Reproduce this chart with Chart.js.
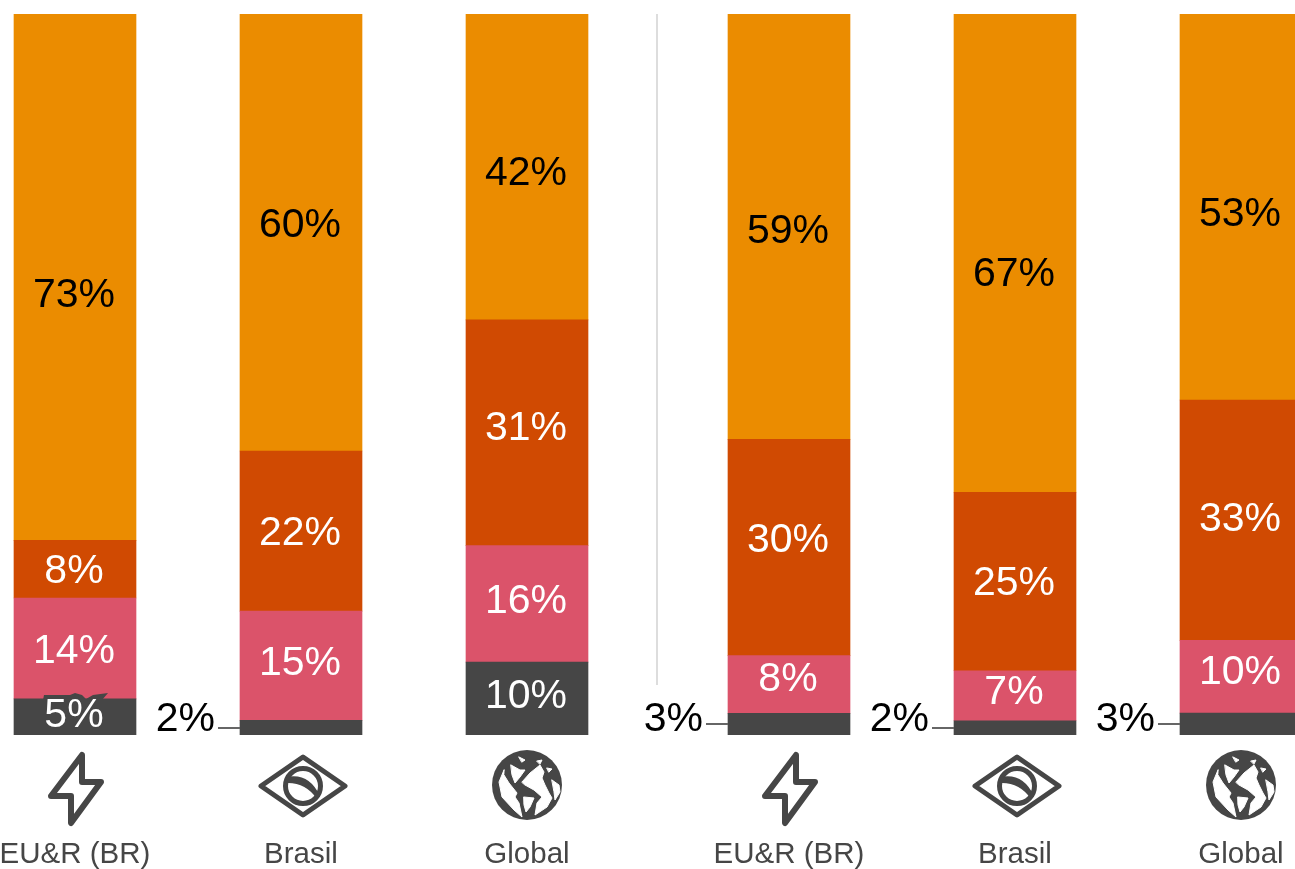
<!DOCTYPE html>
<html lang="pt">
<head>
<meta charset="utf-8">
<title>Stacked shares by region</title>
<script src="https://cdn.jsdelivr.net/npm/chart.js@4"></script>
<style>
  html, body { margin: 0; padding: 0; width: 1295px; height: 869px; overflow: hidden; background: #fff; }
  canvas { position: absolute; top: 0; }
  #panelA { left: -38px; }
  #panelB { left: 630px; }
</style>
</head>
<body>
<canvas id="panelA" width="678" height="869"></canvas>
<canvas id="panelB" width="724" height="869"></canvas>
<script>
// Series values, bottom of the stack first; the six columns form two panels of three.
const categories = ['EU&R (BR)', 'Brasil', 'Global'];
const darkValues = [5, 2, 10, 3, 2, 3];
const pinkValues = [14, 15, 16, 8, 7, 10];
const redValues = [8, 22, 31, 30, 25, 33];
const orangeValues = [73, 60, 42, 59, 67, 53];

const seriesValues = [darkValues, pinkValues, redValues, orangeValues];
const seriesColors = ['#464646', '#DB536A', '#D04A02', '#EB8C00'];
const labelColors = ['#fff', '#fff', '#fff', '#000'];

// Vertical nudge of the in-bar labels, in pixels.
const labelShift = [
  [-4, 0, -5, 0, 0, 0],
  [0, -5, -5, -8, -6, -7],
  [0, 0, -7, -10, -1, -3],
  [16, -10, 4, 2, 19, 5]
];

const VALUE_FONT = '41px "Liberation Sans", Arial, sans-serif';
const AXIS_FONT_SIZE = 29.5;
const INK = '#464646';

// Each column is a full 100% stack of its rounded shares.
function share(seriesIndex, column) {
  const total = seriesValues.reduce((sum, s) => sum + s[column], 0);
  return seriesValues[seriesIndex][column] / total * 100;
}

const boltPath = new Path2D('M7 20 L7 47 L26 47 L-4 88 L-4 61 L-24 61 Z');
const flagDiamond = new Path2D('M2 22 L44 51 L2 80 L-40 51 Z');
const flagBand = new Path2D('M-15 42 Q8 37 19 61 L16 64 Q5 48 -13 48 Z');
// Oceans and land interiors, cut out of a solid disc.
const globeCutouts = [
  'M-23 -15 L-28 -3 L-25 12 L-13 25 L-5 32 L-8 18 L-12 12 L-10 8 L-18 -2 L-23 -10 Z',
  'M-16 -20 L-7 -15 L-2 -15 L-7 -8 L-12 -2 L-15 -10 Z',
  'M-3 12 L7 13 L3 22 L-1 27 L-3 20 Z',
  'M-5 -3 L3 -12 L13 -20 L17 -13 L15 -7 L18 0 L22 8 L25 13 L20 22 L8 30 L10 18 L15 12 L7 5 L-2 0 Z',
  'M25 -5 L32 0 L33 7 L28 15 L27 7 Z',
  'M-8 -28 L-2 -25 L-5 -23 Z',
  'M10 -24 L15 -25 L13 -21 Z',
  'M20 -17 L25 -16 L22 -13 Z'
].map(d => new Path2D(d));

function drawBolt(ctx) {
  ctx.lineWidth = 6;
  ctx.stroke(boltPath);
}

function drawFlag(ctx) {
  ctx.lineWidth = 5;
  ctx.stroke(flagDiamond);
  ctx.beginPath();
  ctx.arc(2, 51, 17.5, 0, Math.PI * 2);
  ctx.stroke();
  ctx.fill(flagBand);
}

function drawGlobe(ctx) {
  ctx.translate(0, 50);
  ctx.beginPath();
  ctx.arc(0, 0, 35, 0, Math.PI * 2);
  ctx.fill();
  ctx.fillStyle = '#fff';
  ctx.strokeStyle = '#fff';
  ctx.lineWidth = 1;
  globeCutouts.forEach(p => { ctx.fill(p); ctx.stroke(p); });
}

const iconFor = { 'EU&R (BR)': drawBolt, 'Brasil': drawFlag, 'Global': drawGlobe };

// Draws region icons, value labels, leader lines and the panel divider.
const annotations = {
  id: 'annotations',
  afterDatasetsDraw(chart, args, opts) {
    const { ctx, chartArea, scales } = chart;
    ctx.save();

    categories.forEach((name, i) => {
      ctx.save();
      ctx.translate(scales.x.getPixelForValue(i), chartArea.bottom);
      ctx.strokeStyle = INK;
      ctx.fillStyle = INK;
      ctx.lineJoin = 'round';
      ctx.lineCap = 'round';
      iconFor[name](ctx);
      ctx.restore();
    });

    if (opts.kink) {
      // Raised notch along the top of the first column's dark segment.
      const el = chart.getDatasetMeta(0).data[0];
      ctx.fillStyle = INK;
      ctx.beginPath();
      [[-32, 1], [-31, -4], [-5, -4], [0, -6], [7, -4], [11, 0], [18, -4], [33, -6], [27, 1]]
        .forEach(([dx, dy], k) => {
          const x = el.x + dx, y = el.y + dy;
          if (k) ctx.lineTo(x, y); else ctx.moveTo(x, y);
        });
      ctx.closePath();
      ctx.fill();
    }

    ctx.font = VALUE_FONT;
    ctx.textBaseline = 'middle';
    seriesValues.forEach((values, s) => {
      const meta = chart.getDatasetMeta(s);
      categories.forEach((name, i) => {
        const column = i + opts.firstColumn;
        const value = values[column];
        const el = meta.data[i];
        const mid = (el.y + el.base) / 2;
        if (value < 4) {
          const left = el.x - el.width / 2;
          ctx.strokeStyle = '#666';
          ctx.lineWidth = 2;
          ctx.beginPath();
          ctx.moveTo(left - 22, Math.round(mid));
          ctx.lineTo(left, Math.round(mid));
          ctx.stroke();
          ctx.fillStyle = '#000';
          ctx.textAlign = 'right';
          ctx.fillText(value + '%', left - 25, chartArea.bottom - 15);
        } else {
          ctx.fillStyle = labelColors[s];
          ctx.textAlign = 'center';
          ctx.fillText(value + '%', el.x - 1, mid + 3 + labelShift[s][column]);
        }
      });
    });

    if (opts.divider) {
      const x = chartArea.left - 19;
      ctx.strokeStyle = '#ddd';
      ctx.lineWidth = 2;
      ctx.beginPath();
      ctx.moveTo(x, chartArea.top);
      ctx.lineTo(x, chartArea.bottom - 50);
      ctx.stroke();
    }
    ctx.restore();
  }
};

function makePanel(canvasId, firstColumn, leftPad, extras) {
  return new Chart(document.getElementById(canvasId), {
    type: 'bar',
    data: {
      labels: categories,
      datasets: seriesValues.map((values, s) => ({
        data: categories.map((_, i) => share(s, i + firstColumn)),
        backgroundColor: seriesColors[s],
        borderWidth: 0,
        barThickness: 122
      }))
    },
    options: {
      responsive: false,
      animation: false,
      layout: { padding: { left: leftPad, top: 14, right: 0, bottom: 0 } },
      plugins: {
        legend: { display: false },
        tooltip: { enabled: false },
        annotations: Object.assign({ firstColumn }, extras)
      },
      scales: {
        x: {
          stacked: true,
          border: { display: false },
          grid: { display: false, drawTicks: false },
          // Fixed band under the bars for icons and names; the names may overhang the panel edge.
          afterFit(scale) {
            scale.height = 134;
            scale.paddingLeft = 0;
            scale.paddingRight = 0;
          },
          ticks: {
            autoSkip: false,
            maxRotation: 0,
            padding: 102,
            color: INK,
            font: { family: '"Liberation Sans", Arial, sans-serif', size: AXIS_FONT_SIZE }
          }
        },
        y: { stacked: true, display: false, min: 0, max: 100 }
      }
    },
    plugins: [annotations]
  });
}

makePanel('panelA', 0, 0, { kink: true });
makePanel('panelB', 3, 46, { divider: true });
</script>
</body>
</html>
